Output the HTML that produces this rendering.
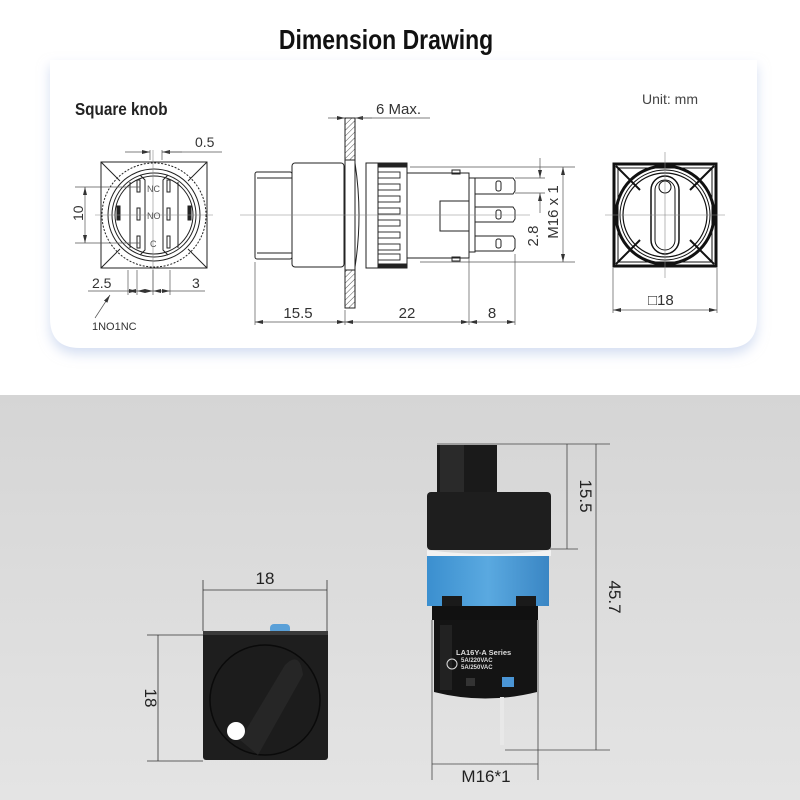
<!DOCTYPE html>
<html><head><meta charset="utf-8"><style>
html,body{margin:0;padding:0;width:800px;height:800px;overflow:hidden;background:#fff}
svg{display:block}
text{font-family:"Liberation Sans",sans-serif}
</style></head><body>
<svg width="800" height="800" viewBox="0 0 800 800" xmlns="http://www.w3.org/2000/svg">
<defs>
<filter id="sh" x="-10%" y="-10%" width="120%" height="130%"><feDropShadow dx="0" dy="6" stdDeviation="6" flood-color="#b8c8e8" flood-opacity="0.6"/></filter>
<pattern id="hatch" width="4" height="4" patternUnits="userSpaceOnUse" patternTransform="rotate(45)"><line x1="0" y1="0" x2="0" y2="4" stroke="#555" stroke-width="1"/></pattern>
<linearGradient id="bg" x1="0" y1="0" x2="0" y2="1"><stop offset="0" stop-color="#d5d5d5"/><stop offset="1" stop-color="#e4e4e4"/></linearGradient>
<linearGradient id="blue" x1="0" y1="0" x2="1" y2="0"><stop offset="0" stop-color="#3b8fcf"/><stop offset="0.5" stop-color="#5aa9e0"/><stop offset="1" stop-color="#3a86c4"/></linearGradient>
<marker id="ar" markerWidth="8" markerHeight="6" refX="8" refY="3" orient="auto-start-reverse" markerUnits="userSpaceOnUse"><path d="M0,1 L8,3 L0,5 Z" fill="#333"/></marker>
</defs>
<rect x="0" y="0" width="800" height="395" fill="#fff"/>
<path d="M50,60 H757 V318 Q757,348 727,348 H80 Q50,348 50,318 Z" fill="#fff" filter="url(#sh)"/>
<rect x="0" y="395" width="800" height="405" fill="url(#bg)"/>

<text x="386" y="49" text-anchor="middle" font-size="28" font-weight="bold" transform="translate(386 0) scale(0.82 1) translate(-386 0)" fill="#111">Dimension Drawing</text>
<text x="75" y="115" font-size="18" font-weight="bold" fill="#222" transform="translate(75 0) scale(0.85 1) translate(-75 0)">Square knob</text>
<text x="642" y="104" font-size="14" fill="#444">Unit: mm</text>

<g stroke="#222" fill="none" stroke-width="1">
<!-- left front view -->
<rect x="101" y="162" width="106" height="106"/>
<circle cx="154" cy="215" r="52" stroke-dasharray="2 1.5"/>
<circle cx="154" cy="215" r="46"/>
<circle cx="154" cy="215" r="42"/>
<circle cx="154" cy="215" r="39"/>
<line x1="101" y1="162" x2="120" y2="181"/><line x1="207" y1="162" x2="188" y2="181"/>
<line x1="101" y1="268" x2="120" y2="249"/><line x1="207" y1="268" x2="188" y2="249"/>
<path d="M140,175 L145,180 V250 L140,255 M168,175 L163,180 V250 L168,255"/>
<line x1="130" y1="182" x2="130" y2="248"/><line x1="178" y1="182" x2="178" y2="248"/>
<rect x="117" y="206" width="3" height="14" fill="#222"/><rect x="188" y="206" width="3" height="14" fill="#222"/>
<rect x="137" y="180" width="3" height="12"/><rect x="167" y="180" width="3" height="12"/>
<rect x="137" y="208" width="3" height="12"/><rect x="167" y="208" width="3" height="12"/>
<rect x="137" y="236" width="3" height="12"/><rect x="167" y="236" width="3" height="12"/>
<line x1="95" y1="215" x2="213" y2="215" stroke="#888" stroke-width="0.6"/>
<line x1="153" y1="150" x2="153" y2="292" stroke="#888" stroke-width="0.6"/>
</g>
<g font-family="Liberation Serif" font-size="9" fill="#555"><text x="147" y="192">NC</text><text x="147" y="219">NO</text><text x="150" y="247">C</text></g>
<g stroke="#555" stroke-width="0.7" fill="none">
<line x1="75" y1="187" x2="140" y2="187"/><line x1="75" y1="243" x2="140" y2="243"/>
<line x1="85" y1="187" x2="85" y2="243" marker-start="url(#ar)" marker-end="url(#ar)"/>
<line x1="128" y1="270" x2="128" y2="295"/><line x1="137" y1="270" x2="137" y2="295"/><line x1="153" y1="270" x2="153" y2="295"/><line x1="170" y1="270" x2="170" y2="295"/>
<line x1="88" y1="291" x2="128" y2="291"/><line x1="128" y1="291" x2="137" y2="291" marker-start="url(#ar)" marker-end="url(#ar)"/>
<line x1="137" y1="291" x2="153" y2="291" marker-start="url(#ar)" marker-end="url(#ar)"/><line x1="153" y1="291" x2="170" y2="291" marker-start="url(#ar)" marker-end="url(#ar)"/>
<line x1="170" y1="291" x2="205" y2="291"/>
<line x1="150" y1="160" x2="150" y2="150"/><line x1="162" y1="160" x2="162" y2="150"/>
<line x1="125" y1="152" x2="150" y2="152" marker-end="url(#ar)"/><line x1="182" y1="152" x2="162" y2="152" marker-end="url(#ar)"/><line x1="162" y1="152" x2="222" y2="152"/>
<line x1="95" y1="318" x2="110" y2="295" marker-end="url(#ar)"/>
</g>
<g font-size="14" fill="#333"><text x="70" y="222" transform="rotate(-90 76 215)">10</text>
<text x="195" y="147">0.5</text><text x="92" y="288">2.5</text><text x="192" y="288">3</text></g>
<text x="92" y="330" font-size="11" fill="#333">1NO1NC</text>

<!-- side view -->
<g stroke="#222" fill="none" stroke-width="1">
<rect x="255" y="172" width="37" height="87" rx="2"/>
<line x1="257" y1="178" x2="292" y2="178"/><line x1="257" y1="253" x2="292" y2="253"/>
<rect x="292" y="163" width="52" height="104" rx="3"/>
<rect x="345" y="118" width="10" height="190" fill="url(#hatch)"/>
<rect x="345" y="160" width="10" height="110" fill="#fff"/>
<path d="M355,163 Q363,215 355,267"/>
<rect x="366" y="163" width="12" height="105"/>
<rect x="378" y="163" width="29" height="105"/>
<rect x="379" y="163" width="27" height="4" fill="#222"/><rect x="379" y="264" width="27" height="4" fill="#222"/>
<g stroke-width="0.9">
<rect x="378" y="172" width="22" height="6"/><rect x="378" y="184" width="22" height="6"/><rect x="378" y="196" width="22" height="6"/><rect x="378" y="208" width="22" height="6"/><rect x="378" y="220" width="22" height="6"/><rect x="378" y="232" width="22" height="6"/><rect x="378" y="244" width="22" height="6"/><rect x="378" y="254" width="22" height="6"/>
</g>
<rect x="407" y="173" width="62" height="85"/>
<rect x="452" y="170" width="8" height="4"/><rect x="452" y="257" width="8" height="4"/>
<rect x="440" y="201" width="29" height="30"/>
<rect x="469" y="178" width="6" height="74"/>
<path d="M475,178 H513 L515,181 V191 L513,194 H475"/>
<path d="M475,207 H513 L515,210 V219 L513,222 H475"/>
<path d="M475,236 H513 L515,239 V248 L513,251 H475"/>
<rect x="496" y="181" width="5" height="10" rx="2"/><rect x="496" y="210" width="5" height="9" rx="2"/><rect x="496" y="239" width="5" height="9" rx="2"/>
<line x1="240" y1="215" x2="530" y2="215" stroke="#888" stroke-width="0.6"/>
</g>
<g stroke="#555" stroke-width="0.7" fill="none">
<line x1="255" y1="262" x2="255" y2="325"/><line x1="345" y1="310" x2="345" y2="325"/><line x1="469" y1="258" x2="469" y2="325"/><line x1="515" y1="254" x2="515" y2="325"/>
<line x1="255" y1="322" x2="345" y2="322" marker-start="url(#ar)" marker-end="url(#ar)"/>
<line x1="345" y1="322" x2="469" y2="322" marker-start="url(#ar)" marker-end="url(#ar)"/>
<line x1="469" y1="322" x2="515" y2="322" marker-start="url(#ar)" marker-end="url(#ar)"/>
<line x1="328" y1="118" x2="345" y2="118" marker-end="url(#ar)"/><line x1="372" y1="118" x2="355" y2="118" marker-end="url(#ar)"/><line x1="355" y1="118" x2="430" y2="118"/>
<line x1="410" y1="167" x2="575" y2="167"/><line x1="420" y1="262" x2="575" y2="262"/>
<line x1="515" y1="178" x2="545" y2="178"/><line x1="515" y1="193" x2="545" y2="193"/>
<line x1="540" y1="158" x2="540" y2="178" marker-end="url(#ar)"/><line x1="540" y1="213" x2="540" y2="193" marker-end="url(#ar)"/>
<line x1="563" y1="167" x2="563" y2="262" marker-start="url(#ar)" marker-end="url(#ar)"/>
</g>
<g font-size="15" fill="#333">
<text x="376" y="114">6 Max.</text>
<text x="298" y="318" text-anchor="middle">15.5</text>
<text x="407" y="318" text-anchor="middle">22</text>
<text x="492" y="318" text-anchor="middle">8</text>
<text x="533" y="236" transform="rotate(-90 533 236)" text-anchor="middle" dy="5">2.8</text>
<text x="553" y="212" transform="rotate(-90 553 212)" text-anchor="middle" dy="5">M16 x 1</text>
<text x="648" y="305">□18</text>
</g>

<!-- right top view -->
<g stroke="#111" fill="none">
<rect x="614" y="164" width="102" height="102" stroke-width="3"/>
<path d="M618,168 H712 V262 H618 Z" stroke-width="1"/>
<path d="M616,166 L640,190 M714,166 L690,190 M616,264 L640,240 M714,264 L690,240" stroke-width="2"/>
<circle cx="665" cy="215" r="49" stroke-width="3"/>
<circle cx="665" cy="215" r="45" stroke-width="1"/>
<circle cx="665" cy="215" r="42" stroke-width="1.2"/>
<rect x="651" y="176" width="28" height="78" rx="14" stroke-width="1.5"/>
<rect x="655" y="180" width="20" height="70" rx="10" stroke-width="1"/>
<circle cx="665" cy="187" r="6" stroke-width="1"/>
<line x1="605" y1="215" x2="725" y2="215" stroke="#888" stroke-width="0.6"/>
<line x1="665" y1="152" x2="665" y2="278" stroke="#888" stroke-width="0.6"/>
</g>
<g stroke="#555" stroke-width="0.7"><line x1="613" y1="268" x2="613" y2="313"/><line x1="717" y1="268" x2="717" y2="313"/>
<line x1="613" y1="310" x2="717" y2="310" marker-start="url(#ar)" marker-end="url(#ar)"/></g>

<!-- bottom left photo -->
<rect x="270" y="624" width="20" height="10" rx="4" fill="#5aa0d8"/>
<rect x="203" y="631" width="125" height="129" rx="3" fill="#1e1e1e"/>
<rect x="203" y="631" width="125" height="4" fill="#3a3a3a"/>
<circle cx="265" cy="700" r="55" fill="#1c1c1c" stroke="#0a0a0a" stroke-width="1.5"/>
<path d="M240,740 L285,665 Q300,650 303,675 L258,755 Z" fill="#262626"/>
<circle cx="236" cy="731" r="9" fill="#fff"/>
<g stroke="#333" stroke-width="0.8" fill="none">
<line x1="203" y1="580" x2="203" y2="631"/><line x1="327" y1="580" x2="327" y2="631"/>
<line x1="203" y1="590" x2="327" y2="590"/>
<line x1="147" y1="635" x2="203" y2="635"/><line x1="147" y1="761" x2="203" y2="761"/>
<line x1="158" y1="635" x2="158" y2="761"/>
</g>
<text x="265" y="584" font-size="17" text-anchor="middle" fill="#222">18</text>
<text x="145" y="698" font-size="17" fill="#222" transform="rotate(90 145 698)" text-anchor="middle">18</text>

<!-- bottom right photo -->
<rect x="437" y="445" width="60" height="50" fill="#1a1a1a"/>
<rect x="440" y="445" width="24" height="50" fill="#2a2a2a"/>
<rect x="427" y="492" width="124" height="58" rx="4" fill="#1e1e1e"/>
<path d="M427,550 Q489,558 551,550 V556 H427 Z" fill="#f2f2f2"/>
<rect x="427" y="556" width="122" height="50" fill="url(#blue)"/>
<rect x="442" y="596" width="20" height="12" fill="#1a1a1a"/><rect x="516" y="596" width="20" height="12" fill="#1a1a1a"/>
<rect x="432" y="606" width="106" height="14" fill="#111"/>
<path d="M434,620 H537 V692 Q485,705 434,692 Z" fill="#141414"/>
<rect x="440" y="625" width="12" height="65" fill="#222"/>
<text x="456" y="655" font-size="7.5" font-weight="bold" fill="#ddd">LA16Y-A Series</text>
<circle cx="452" cy="664" r="5" fill="none" stroke="#ddd" stroke-width="1"/>
<text x="461" y="662" font-size="6" font-weight="bold" fill="#ddd">5A/220VAC</text>
<text x="461" y="669" font-size="6" font-weight="bold" fill="#ddd">5A/250VAC</text>
<rect x="466" y="678" width="9" height="8" fill="#333"/>
<rect x="502" y="677" width="12" height="10" fill="#4a95d5"/>
<rect x="500" y="697" width="4" height="48" fill="#e8e8e8"/>
<g stroke="#444" stroke-width="0.8" fill="none">
<line x1="437" y1="444" x2="610" y2="444"/>
<line x1="550" y1="549" x2="578" y2="549"/>
<line x1="567" y1="444" x2="567" y2="549"/>
<line x1="596" y1="444" x2="596" y2="750"/>
<line x1="505" y1="750" x2="610" y2="750"/>
<line x1="432" y1="620" x2="432" y2="780"/><line x1="538" y1="620" x2="538" y2="780"/>
<line x1="432" y1="764" x2="538" y2="764"/>
</g>
<text x="580" y="496" font-size="17" fill="#222" transform="rotate(90 580 496)" text-anchor="middle">15.5</text>
<text x="609" y="597" font-size="17" fill="#222" transform="rotate(90 609 597)" text-anchor="middle">45.7</text>
<text x="486" y="782" font-size="17" fill="#222" text-anchor="middle">M16*1</text>
</svg>
</body></html>
